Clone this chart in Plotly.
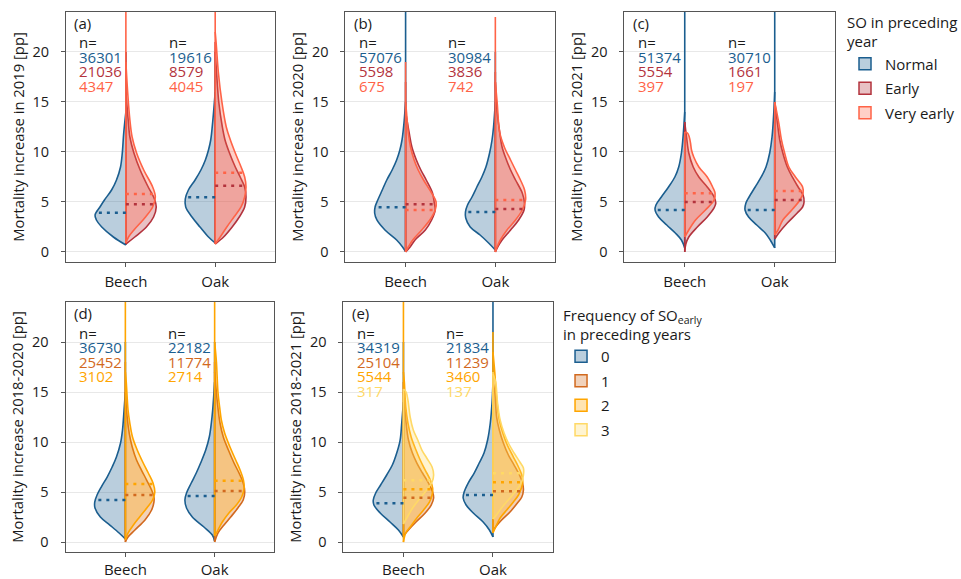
import numpy as np
import plotly.graph_objects as go

# ---------------- categories / labels ----------------
SPECIES = ["Beech", "Oak"]
SO_GROUPS = ["Normal", "Early", "Very early"]
FREQ_GROUPS = ["0", "1", "2", "3"]
PANEL_LABELS = ["(a)", "(b)", "(c)", "(d)", "(e)"]
Y_TITLES = [
    "Mortality increase in 2019 [pp]",
    "Mortality increase in 2020 [pp]",
    "Mortality increase in 2021 [pp]",
    "Mortality increase 2018-2020 [pp]",
    "Mortality increase 2018-2021 [pp]",
]
Y_TICKS = [0, 5, 10, 15, 20]

SO_COLORS = ["#1b5e8f", "#b3333d", "#ff6347"]
FREQ_COLORS = ["#1b5e8f", "#d2691e", "#ffa500", "#ffd966"]

# ---------------- violin profiles: (mortality increase, half-width density) ----------------
# panel (a) 2019
A_BEECH_NORMAL = [(0.7, 0), (1.5, 0.14), (2.5, 0.27), (3.2, 0.33), (3.7, 0.345), (4.5, 0.29), (5.2, 0.24),
                  (6.2, 0.16), (7.2, 0.105), (8.5, 0.06), (9.9, 0.04), (11.9, 0.024), (14.0, 0)]
A_BEECH_EARLY = [(0.8, 0), (1.5, 0.10), (2.5, 0.23), (3.5, 0.31), (4.5, 0.34), (5.3, 0.32), (6.5, 0.25),
                 (8.2, 0.16), (9.9, 0.09), (11.5, 0.045), (13.2, 0.026), (16.0, 0)]
A_BEECH_VERY = [(0.9, 0), (1.5, 0.03), (2.2, 0.09), (3.5, 0.22), (4.5, 0.30), (5.5, 0.33), (6.5, 0.30),
                (8.2, 0.20), (9.9, 0.12), (11.5, 0.07), (13.2, 0.045), (16.0, 0.02), (19.0, 0)]
A_BEECH_MAX = [20, 20, 25]
A_BEECH_MED = [3.93, 4.77, 5.8]
A_BEECH_N = [36301, 21036, 4347]

A_OAK_NORMAL = [(0.9, 0), (1.5, 0.075), (2.5, 0.17), (3.5, 0.26), (4.5, 0.33), (5.3, 0.335), (6.2, 0.30),
                (7.2, 0.225), (8.2, 0.16), (9.2, 0.11), (10.2, 0.075), (11.2, 0.05), (13.2, 0.026), (16.0, 0)]
A_OAK_EARLY = [(0.8, 0), (1.5, 0.094), (2.5, 0.19), (3.5, 0.27), (4.5, 0.33), (5.5, 0.345), (6.5, 0.33),
               (7.5, 0.28), (8.5, 0.225), (9.9, 0.16), (11.2, 0.11), (12.5, 0.08), (15.0, 0.04), (18.0, 0.015),
               (20.0, 0)]
A_OAK_VERY = [(0.8, 0), (1.5, 0.056), (2.5, 0.13), (3.5, 0.21), (4.5, 0.29), (5.5, 0.33), (6.5, 0.345),
              (7.5, 0.33), (8.5, 0.29), (9.9, 0.225), (11.2, 0.17), (12.5, 0.124), (15.0, 0.075),
              (18.0, 0.035), (21.0, 0.01), (22.0, 0)]
A_OAK_MAX = [20, 21, 25]
A_OAK_MED = [5.47, 6.63, 7.93]
A_OAK_N = [19616, 8579, 4045]

# panel (b) 2020
B_BEECH_NORMAL = [(0.05, 0), (0.5, 0.034), (1.2, 0.10), (2.2, 0.23), (3.2, 0.32), (3.9, 0.345), (4.5, 0.34),
                  (5.2, 0.31), (6.2, 0.26), (7.2, 0.21), (8.2, 0.15), (9.2, 0.10), (10.2, 0.064),
                  (11.2, 0.04), (12.2, 0.026), (13.2, 0.015), (15.0, 0)]
B_BEECH_EARLY = [(0.0, 0), (0.5, 0.05), (1.2, 0.105), (2.2, 0.22), (3.2, 0.29), (4.2, 0.33), (4.9, 0.32),
                 (5.9, 0.30), (7.2, 0.23), (8.2, 0.17), (9.2, 0.12), (10.5, 0.07), (11.9, 0.04), (14.0, 0)]
B_BEECH_VERY = [(0.0, 0), (0.5, 0.03), (1.2, 0.08), (2.2, 0.18), (3.2, 0.27), (4.2, 0.33), (5.0, 0.34),
                (5.9, 0.29), (7.2, 0.20), (8.2, 0.14), (9.2, 0.095), (10.5, 0.055), (11.9, 0.03),
                (14.0, 0.01), (15.0, 0)]
B_BEECH_MAX = [25, 17, 19]
B_BEECH_MED = [4.47, 4.77, 4.2]
B_BEECH_N = [57076, 5598, 675]

B_OAK_NORMAL = [(0.2, 0), (0.9, 0.075), (1.7, 0.17), (2.5, 0.28), (3.4, 0.33), (4.0, 0.333), (4.7, 0.31),
                (5.5, 0.26), (6.5, 0.206), (7.5, 0.15), (8.5, 0.105), (9.9, 0.064), (11.2, 0.037),
                (12.5, 0.02), (15.0, 0)]
B_OAK_EARLY = [(0.0, 0), (0.5, 0.026), (1.2, 0.075), (2.2, 0.17), (3.2, 0.26), (4.2, 0.32), (4.9, 0.325),
               (5.9, 0.30), (7.2, 0.225), (8.2, 0.17), (9.2, 0.124), (10.5, 0.075), (11.9, 0.05),
               (14.0, 0.02), (17.0, 0)]
B_OAK_VERY = [(0.0, 0), (0.5, 0.02), (1.2, 0.056), (2.2, 0.13), (3.2, 0.225), (4.2, 0.30), (5.2, 0.337),
              (6.2, 0.326), (7.2, 0.28), (8.2, 0.225), (9.2, 0.17), (10.5, 0.10), (11.9, 0.05),
              (15.0, 0.02), (17.0, 0)]
B_OAK_MAX = [20, 18, 23.5]
B_OAK_MED = [4.0, 4.3, 5.2]
B_OAK_N = [30984, 3836, 742]

# panel (c) 2021
C_BEECH_NORMAL = [(0.4, 0), (1.2, 0.037), (1.9, 0.105), (2.7, 0.2), (3.5, 0.29), (4.2, 0.33), (4.7, 0.32),
                  (5.5, 0.26), (6.5, 0.18), (7.5, 0.11), (8.5, 0.067), (9.9, 0.037), (11.5, 0.019), (14.0, 0)]
C_BEECH_EARLY = [(0.0, 0), (0.8, 0.012), (1.5, 0.045), (2.5, 0.14), (3.5, 0.25), (4.4, 0.326), (4.9, 0.345),
                 (5.5, 0.326), (6.5, 0.25), (7.5, 0.157), (8.5, 0.094), (9.9, 0.045), (11.5, 0.02), (13.0, 0)]
C_BEECH_VERY = [(1.5, 0), (2.2, 0.045), (3.2, 0.12), (4.2, 0.23), (5.2, 0.326), (5.9, 0.337), (6.5, 0.31),
                (7.5, 0.25), (8.5, 0.157), (9.5, 0.10), (10.2, 0.075), (10.9, 0.064), (11.5, 0.05),
                (11.9, 0.03), (12.0, 0)]
C_BEECH_MAX = [25, 13, 12]
C_BEECH_MED = [4.2, 5.0, 5.87]
C_BEECH_N = [51374, 5554, 397]

C_OAK_NORMAL = [(0.4, 0), (1.2, 0.05), (1.9, 0.105), (2.7, 0.2), (3.5, 0.29), (4.2, 0.33), (4.9, 0.32),
                (5.5, 0.285), (6.5, 0.217), (7.5, 0.15), (8.5, 0.097), (9.9, 0.056), (11.5, 0.03),
                (14.0, 0.01), (16.0, 0)]
C_OAK_EARLY = [(1.3, 0), (1.9, 0.045), (2.9, 0.14), (3.9, 0.25), (4.5, 0.31), (5.0, 0.326), (5.7, 0.315),
               (6.5, 0.26), (7.5, 0.195), (8.5, 0.14), (9.9, 0.09), (11.2, 0.056), (12.9, 0.03), (15.0, 0)]
C_OAK_VERY = [(1.7, 0), (2.2, 0.037), (3.2, 0.09), (4.2, 0.19), (5.2, 0.28), (5.9, 0.315), (6.5, 0.31),
              (7.5, 0.23), (8.5, 0.157), (9.9, 0.11), (11.2, 0.075), (12.9, 0.045), (15.0, 0)]
C_OAK_MAX = [25, 15, 15]
C_OAK_MED = [4.2, 5.2, 6.1]
C_OAK_N = [30710, 1661, 197]

# panel (d) 2018-2020
D_BEECH_0 = [(0.3, 0), (0.9, 0.07), (1.7, 0.174), (2.5, 0.28), (3.4, 0.34), (4.0, 0.343), (4.7, 0.317),
             (5.5, 0.27), (6.5, 0.204), (7.5, 0.148), (8.5, 0.10), (9.9, 0.054), (11.2, 0.032),
             (12.5, 0.02), (15.0, 0)]
D_BEECH_1 = [(0.0, 0), (0.5, 0.03), (1.2, 0.107), (2.2, 0.22), (3.2, 0.294), (4.0, 0.32), (4.5, 0.32),
             (5.2, 0.294), (6.2, 0.238), (7.2, 0.18), (8.2, 0.125), (9.5, 0.077), (10.9, 0.043),
             (12.5, 0.02), (15.0, 0)]
D_BEECH_2 = [(0.2, 0), (0.9, 0.03), (1.7, 0.09), (2.5, 0.16), (3.4, 0.24), (4.2, 0.305), (5.0, 0.33),
             (5.9, 0.31), (6.9, 0.257), (7.9, 0.20), (9.2, 0.133), (10.5, 0.08), (11.9, 0.05),
             (13.2, 0.03), (16.0, 0.01), (17.0, 0)]
D_BEECH_MAX = [20, 18, 25]
D_BEECH_MED = [4.2, 4.7, 5.8]
D_BEECH_N = [36730, 25452, 3102]

D_OAK_0 = [(0.1, 0), (0.7, 0.026), (1.5, 0.12), (2.5, 0.25), (3.4, 0.315), (4.2, 0.333), (4.9, 0.315),
           (5.9, 0.262), (6.9, 0.206), (7.9, 0.157), (9.2, 0.10), (10.5, 0.06), (11.9, 0.037),
           (13.2, 0.022), (16.0, 0)]
D_OAK_1 = [(0.0, 0), (0.9, 0.037), (1.7, 0.105), (2.5, 0.18), (3.4, 0.26), (4.2, 0.32), (5.0, 0.337),
           (5.9, 0.32), (6.9, 0.273), (7.9, 0.217), (9.2, 0.154), (10.5, 0.097), (11.9, 0.06),
           (14.0, 0.03), (17.0, 0)]
D_OAK_2 = [(0.6, 0), (1.2, 0.037), (2.0, 0.086), (2.9, 0.16), (3.7, 0.243), (4.5, 0.303), (5.4, 0.33),
           (6.2, 0.322), (7.2, 0.285), (8.2, 0.236), (9.5, 0.172), (10.9, 0.112), (12.2, 0.075),
           (13.2, 0.06), (15.0, 0.037), (18.0, 0.02), (20.0, 0)]
D_OAK_MAX = [20, 18, 25]
D_OAK_MED = [4.6, 5.1, 6.13]
D_OAK_N = [22182, 11774, 2714]

# panel (e) 2018-2021
E_BEECH_0 = [(0.5, 0), (1.2, 0.056), (2.0, 0.15), (2.9, 0.26), (3.7, 0.33), (4.2, 0.337), (4.9, 0.31),
             (5.7, 0.255), (6.7, 0.187), (7.7, 0.124), (8.9, 0.075), (10.2, 0.037), (11.9, 0.019), (14.0, 0)]
E_BEECH_1 = [(0.6, 0), (1.2, 0.056), (2.0, 0.14), (2.9, 0.243), (3.7, 0.31), (4.4, 0.337), (5.0, 0.326),
             (5.9, 0.28), (6.9, 0.213), (7.9, 0.15), (8.9, 0.10), (10.2, 0.056), (11.9, 0.03),
             (14.0, 0.01), (15.0, 0)]
E_BEECH_2 = [(0.0, 0), (0.9, 0.026), (1.5, 0.075), (2.4, 0.15), (3.2, 0.225), (4.0, 0.29), (4.7, 0.32),
             (5.4, 0.326), (6.2, 0.30), (7.2, 0.243), (8.2, 0.187), (9.2, 0.14), (10.5, 0.086),
             (11.9, 0.05), (13.5, 0.026), (16.0, 0.01), (17.0, 0)]
E_BEECH_3 = [(1.8, 0), (2.7, 0.056), (3.5, 0.11), (4.4, 0.187), (5.2, 0.26), (6.0, 0.32), (6.7, 0.337),
             (7.5, 0.32), (8.4, 0.26), (9.2, 0.206), (10.2, 0.16), (11.2, 0.11), (12.5, 0.075),
             (14.2, 0.05), (15.0, 0.03), (15.3, 0)]
E_BEECH_MAX = [20, 16, 25, 15.3]
E_BEECH_MED = [3.87, 4.43, 5.27, 6.17]
E_BEECH_N = [34319, 25104, 5544, 317]

E_OAK_0 = [(0.5, 0), (1.2, 0.04), (2.0, 0.11), (2.9, 0.22), (3.7, 0.30), (4.4, 0.333), (5.0, 0.322),
           (5.9, 0.277), (6.9, 0.21), (7.9, 0.154), (8.9, 0.10), (10.2, 0.06), (11.9, 0.03),
           (14.0, 0.01), (16.0, 0)]
E_OAK_1 = [(1.0, 0), (1.4, 0.022), (2.2, 0.097), (3.0, 0.19), (3.9, 0.273), (4.5, 0.322), (5.2, 0.34),
           (5.9, 0.33), (6.7, 0.296), (7.7, 0.236), (8.7, 0.172), (9.9, 0.116), (11.2, 0.071),
           (12.5, 0.041), (15.0, 0.02), (16.0, 0)]
E_OAK_2 = [(0.9, 0), (1.5, 0.03), (2.4, 0.08), (3.2, 0.154), (4.0, 0.228), (4.7, 0.285), (5.4, 0.318),
           (6.0, 0.333), (6.7, 0.322), (7.5, 0.285), (8.5, 0.228), (9.7, 0.16), (10.9, 0.11),
           (12.2, 0.071), (14.5, 0.04), (17.0, 0.02), (19.0, 0)]
E_OAK_3 = [(2.3, 0), (2.6, 0.03), (3.5, 0.105), (4.4, 0.19), (5.2, 0.266), (5.9, 0.315), (6.7, 0.34),
           (7.4, 0.34), (8.0, 0.30), (8.9, 0.236), (9.9, 0.172), (10.9, 0.124), (12.2, 0.08),
           (14.0, 0.05), (16.0, 0.03), (16.8, 0)]
E_OAK_MAX = [25, 16, 21, 17]
E_OAK_MED = [4.7, 5.07, 5.97, 6.87]
E_OAK_N = [21834, 11239, 3460, 137]

# ---------------- panel table built from the lists ----------------
PANELS = [
    dict(groups=SO_GROUPS, colors=SO_COLORS,
         shapes=[[A_BEECH_NORMAL, A_BEECH_EARLY, A_BEECH_VERY], [A_OAK_NORMAL, A_OAK_EARLY, A_OAK_VERY]],
         maxs=[A_BEECH_MAX, A_OAK_MAX], meds=[A_BEECH_MED, A_OAK_MED], ns=[A_BEECH_N, A_OAK_N]),
    dict(groups=SO_GROUPS, colors=SO_COLORS,
         shapes=[[B_BEECH_NORMAL, B_BEECH_EARLY, B_BEECH_VERY], [B_OAK_NORMAL, B_OAK_EARLY, B_OAK_VERY]],
         maxs=[B_BEECH_MAX, B_OAK_MAX], meds=[B_BEECH_MED, B_OAK_MED], ns=[B_BEECH_N, B_OAK_N]),
    dict(groups=SO_GROUPS, colors=SO_COLORS,
         shapes=[[C_BEECH_NORMAL, C_BEECH_EARLY, C_BEECH_VERY], [C_OAK_NORMAL, C_OAK_EARLY, C_OAK_VERY]],
         maxs=[C_BEECH_MAX, C_OAK_MAX], meds=[C_BEECH_MED, C_OAK_MED], ns=[C_BEECH_N, C_OAK_N]),
    dict(groups=FREQ_GROUPS[:3], colors=FREQ_COLORS[:3],
         shapes=[[D_BEECH_0, D_BEECH_1, D_BEECH_2], [D_OAK_0, D_OAK_1, D_OAK_2]],
         maxs=[D_BEECH_MAX, D_OAK_MAX], meds=[D_BEECH_MED, D_OAK_MED], ns=[D_BEECH_N, D_OAK_N]),
    dict(groups=FREQ_GROUPS, colors=FREQ_COLORS,
         shapes=[[E_BEECH_0, E_BEECH_1, E_BEECH_2, E_BEECH_3], [E_OAK_0, E_OAK_1, E_OAK_2, E_OAK_3]],
         maxs=[E_BEECH_MAX, E_OAK_MAX], meds=[E_BEECH_MED, E_OAK_MED], ns=[E_BEECH_N, E_OAK_N]),
]

X_DOMAINS = [[0.0687, 0.2862], [0.3595, 0.5780], [0.6498, 0.8689], [0.0682, 0.2856], [0.3574, 0.5754]]
Y_DOMAINS = [[0.5475, 0.9793]] * 3 + [[0.0466, 0.4784]] * 2
X_LABEL_STANDOFF = [2, 2, 2, 0, 0]

FONT = "Open Sans, Noto Sans, sans-serif"
TEXT_COLOR = "#1a1a1a"
FILL_ALPHA = 0.3


def rgba(hex_color, a):
    h = hex_color.lstrip("#")
    r, g, b = int(h[0:2], 16), int(h[2:4], 16), int(h[4:6], 16)
    return f"rgba({r},{g},{b},{a})"


fig = go.Figure()
annotations = []

for p, panel in enumerate(PANELS):
    ax = "" if p == 0 else str(p + 1)
    xa, ya = "x" + ax, "y" + ax
    median_traces = []
    for k, sp in enumerate(SPECIES):
        c = k + 1
        for j, pts in enumerate(panel["shapes"][k]):
            side = -1 if j == 0 else 1
            col = panel["colors"][j]
            ys = [pt[0] for pt in pts]
            ws = [pt[1] for pt in pts]
            # curved outline (open spline), then straight centre edge incl. the tail
            fig.add_trace(go.Scatter(
                x=[c + side * w for w in ws], y=ys, mode="lines", xaxis=xa, yaxis=ya,
                line=dict(color=col, width=1.6, shape="spline", smoothing=1.0),
                fill="toself", fillcolor=rgba(col, FILL_ALPHA),
                showlegend=False, hoverinfo="skip"))
            ymax = max(panel["maxs"][k][j], ys[-1])
            fig.add_trace(go.Scatter(
                x=[c, c], y=[ys[0], ymax], mode="lines", xaxis=xa, yaxis=ya,
                line=dict(color=col, width=1.6),
                showlegend=False, hoverinfo="skip"))
            med = panel["meds"][k][j]
            wm = float(np.interp(med, ys, ws))
            median_traces.append(go.Scatter(
                x=[c, c + side * wm], y=[med, med], mode="lines", xaxis=xa, yaxis=ya,
                line=dict(color=col, width=2.6, dash="3px,5px"),
                showlegend=False, hoverinfo="skip"))
        # n= labels
        x0 = c - 0.545
        annotations.append(dict(x=x0, y=20.95, xref=xa, yref=ya, text="n=", showarrow=False,
                                xanchor="left", yanchor="middle", height=14,
                                font=dict(size=15, color=TEXT_COLOR, family=FONT)))
        for j, n in enumerate(panel["ns"][k]):
            annotations.append(dict(x=x0, y=19.5 - 1.45 * j, xref=xa, yref=ya, text=str(n), showarrow=False,
                                    xanchor="left", yanchor="middle", height=14,
                                    font=dict(size=15, color=panel["colors"][j], family=FONT)))
    for t in median_traces:
        fig.add_trace(t)
    annotations.append(dict(x=0.03, y=0.956, xref=xa + " domain", yref=ya + " domain", text=PANEL_LABELS[p],
                            showarrow=False, xanchor="left", yanchor="middle",
                            font=dict(size=15, color=TEXT_COLOR, family=FONT)))

    axis_common = dict(showline=True, mirror=True, linecolor="#555555", linewidth=1, automargin=False,
                       ticks="outside", ticklen=4, tickcolor="#555555", zeroline=False, fixedrange=True)
    fig.layout["xaxis" + ax] = dict(domain=X_DOMAINS[p], anchor=ya, range=[0.33, 2.67],
                                    tickvals=[1, 2], ticktext=SPECIES, showgrid=False,
                                    ticklabelstandoff=X_LABEL_STANDOFF[p],
                                    tickfont=dict(size=15, color=TEXT_COLOR), **axis_common)
    fig.layout["yaxis" + ax] = dict(domain=Y_DOMAINS[p], anchor=xa, range=[-1, 24],
                                    tickvals=Y_TICKS, showgrid=True, gridcolor="#e8e8e8", gridwidth=1.3,
                                    ticklabelstandoff=9,
                                    tickfont=dict(size=14.5, color=TEXT_COLOR),
                                    title=dict(text=Y_TITLES[p], font=dict(size=14.8, color=TEXT_COLOR),
                                               standoff=4),
                                    **axis_common)

# legend entries (legend-only traces)
for j, g in enumerate(SO_GROUPS):
    fig.add_trace(go.Bar(x=[None], y=[None], name=g, legend="legend", legendgroup="so" + g,
                         marker=dict(color=rgba(SO_COLORS[j], FILL_ALPHA),
                                     line=dict(color=SO_COLORS[j], width=1.5)),
                         xaxis="x", yaxis="y", hoverinfo="skip"))
for j, g in enumerate(FREQ_GROUPS):
    fig.add_trace(go.Bar(x=[None], y=[None], name=g, legend="legend2", legendgroup="fr" + g,
                         marker=dict(color=rgba(FREQ_COLORS[j], FILL_ALPHA),
                                     line=dict(color=FREQ_COLORS[j], width=1.5)),
                         xaxis="x", yaxis="y", hoverinfo="skip"))

fig.update_layout(
    width=961, height=579, margin=dict(l=0, r=0, t=0, b=0, autoexpand=False),
    plot_bgcolor="white", paper_bgcolor="white",
    font=dict(family=FONT, size=15, color=TEXT_COLOR),
    hovermode=False, showlegend=True, annotations=annotations,
    legend=dict(x=0.8793, y=0.9855, xanchor="left", yanchor="top",
                title=dict(text="SO in preceding<br>year", font=dict(size=15)),
                font=dict(size=15), bgcolor="rgba(0,0,0,0)", tracegroupgap=2,
                itemwidth=30, traceorder="grouped"),
    legend2=dict(x=0.5838, y=0.480, xanchor="left", yanchor="top",
                 title=dict(text="Frequency of SO<sub>early</sub><br>in preceding years", font=dict(size=15)),
                 font=dict(size=15), bgcolor="rgba(0,0,0,0)", tracegroupgap=2,
                 itemwidth=30, traceorder="grouped"),
)

fig.write_html("out.html", config={"displayModeBar": False},
               post_script="document.body.style.margin='0px';")
